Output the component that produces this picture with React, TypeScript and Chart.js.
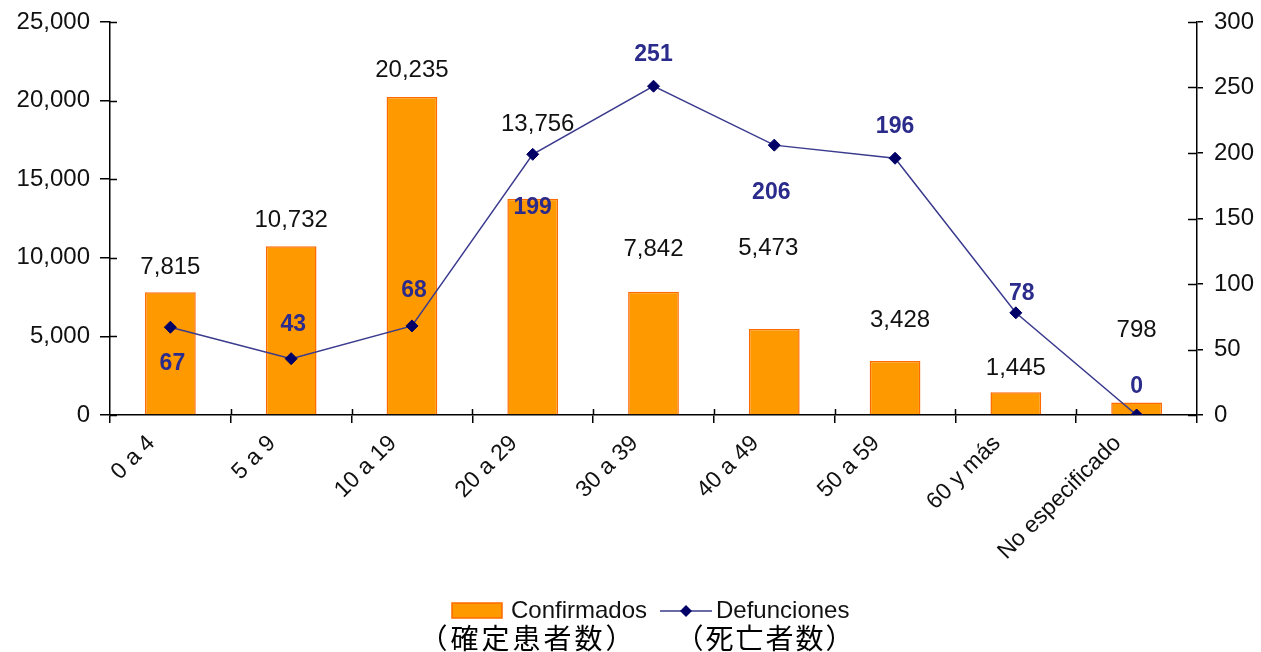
import React, { useEffect, useRef } from "react";
import { Chart, registerables } from "chart.js";

Chart.register(...registerables);

const categories = [
  "0 a 4",
  "5 a 9",
  "10 a 19",
  "20 a 29",
  "30 a 39",
  "40 a 49",
  "50 a 59",
  "60 y más",
  "No especificado",
];
const confirmados = [7815, 10732, 20235, 13756, 7842, 5473, 3428, 1445, 798];
const defunciones = [67, 43, 68, 199, 251, 206, 196, 78, 0];
const leftTicks = [0, 5000, 10000, 15000, 20000, 25000];
const rightTicks = [0, 50, 100, 150, 200, 250, 300];
const seriesNames = ["Confirmados", "Defunciones"];
const seriesNamesJa = ["（確定患者数）", "（死亡者数）"];

// label placement (px, relative to bar top / point)
const barLabelDy = [-25, -26, -27, -74, -42, -81, -41, -24, -72];
const barLabelDx = [0, 0, 0, 5, 0, -6, 5, 0, 0];
const lineLabelDy = [36, -34, -35, 53, -32, 48, -32, -19, -28];
const lineLabelDx = [2, 2, 2, 0, 0, -3, 0, 6, 0];

const FONT = "'Liberation Sans', Arial, sans-serif";
const ORANGE = "#FF9900";
const ORANGE_BORDER = "#FF6A00";
const NAVY_LINE = "#3A3A8E";
const NAVY_POINT = "#000066";
const NAVY_TEXT = "#2B2B8C";

const fmt = (v: number) => v.toLocaleString("en-US");

const labelsPlugin = {
  id: "valueLabels",
  afterDatasetsDraw(chart: any) {
    const ctx = chart.ctx;
    ctx.save();
    ctx.textAlign = "center";
    ctx.textBaseline = "middle";
    const barMeta = chart.getDatasetMeta(0);
    ctx.font = `24px ${FONT}`;
    ctx.fillStyle = "#111";
    barMeta.data.forEach((el: any, i: number) => {
      ctx.fillText(fmt(confirmados[i]), el.x + barLabelDx[i], el.y + barLabelDy[i]);
    });
    const lineMeta = chart.getDatasetMeta(1);
    ctx.font = `bold 23px ${FONT}`;
    ctx.fillStyle = NAVY_TEXT;
    lineMeta.data.forEach((el: any, i: number) => {
      ctx.fillText(String(defunciones[i]), el.x + lineLabelDx[i], el.y + lineLabelDy[i]);
    });
    ctx.restore();
  },
};

const innerTicksPlugin = {
  id: "innerTicks",
  afterDraw(chart: any) {
    const ctx = chart.ctx;
    const { yL, yR, x } = chart.scales;
    const area = chart.chartArea;
    ctx.save();
    ctx.strokeStyle = "#000";
    ctx.lineWidth = 1.5;
    ctx.beginPath();
    leftTicks.forEach((v) => {
      const y = Math.round(yL.getPixelForValue(v)) + 0.5;
      ctx.moveTo(area.left, y);
      ctx.lineTo(area.left + 7, y);
    });
    rightTicks.forEach((v) => {
      const y = Math.round(yR.getPixelForValue(v)) + 0.5;
      ctx.moveTo(area.right - 9, y);
      ctx.lineTo(area.right, y);
    });
    for (let i = 1; i < categories.length; i++) {
      const px = (x.getPixelForValue(i - 1) + x.getPixelForValue(i)) / 2;
      ctx.moveTo(Math.round(px) + 0.5, area.bottom - 6);
      ctx.lineTo(Math.round(px) + 0.5, area.bottom);
    }
    ctx.stroke();
    ctx.restore();
  },
};

function drawSpaced(ctx: any, text: string, centerX: number, y: number, pitch: number) {
  const chars = Array.from(text);
  const start = centerX - ((chars.length - 1) * pitch) / 2;
  chars.forEach((c, i) => ctx.fillText(c, start + i * pitch, y));
}

const legendPlugin = {
  id: "customLegend",
  afterDraw(chart: any) {
    const ctx = chart.ctx;
    ctx.save();
    ctx.textBaseline = "middle";
    ctx.textAlign = "left";
    // bar swatch
    ctx.fillStyle = ORANGE;
    ctx.fillRect(452, 603, 50, 15);
    ctx.strokeStyle = ORANGE_BORDER;
    ctx.lineWidth = 1.5;
    ctx.strokeRect(452, 603, 50, 15);
    ctx.font = `24px ${FONT}`;
    ctx.fillStyle = "#111";
    ctx.fillText(seriesNames[0], 511, 611);
    // line swatch
    ctx.strokeStyle = NAVY_LINE;
    ctx.lineWidth = 1.5;
    ctx.beginPath();
    ctx.moveTo(660, 611);
    ctx.lineTo(712, 611);
    ctx.stroke();
    ctx.fillStyle = NAVY_POINT;
    ctx.beginPath();
    ctx.moveTo(686, 605);
    ctx.lineTo(692, 611);
    ctx.lineTo(686, 617);
    ctx.lineTo(680, 611);
    ctx.closePath();
    ctx.fill();
    ctx.fillStyle = "#111";
    ctx.fillText(seriesNames[1], 716, 611);
    // Japanese captions
    ctx.fillStyle = "#000";
    ctx.textAlign = "center";
    ctx.font = `28px 'Noto Sans CJK JP', sans-serif`;
    drawSpaced(ctx, seriesNamesJa[0], 526.5, 638, 31);
    drawSpaced(ctx, seriesNamesJa[1], 764.5, 638, 30);
    ctx.restore();
  },
};

export default function App() {
  const ref = useRef<HTMLCanvasElement>(null);
  useEffect(() => {
    if (!ref.current) return;
    const chart = new Chart(ref.current, {
      type: "bar",
      data: {
        labels: categories,
        datasets: [
          {
            type: "bar",
            label: seriesNames[0],
            data: confirmados,
            yAxisID: "yL",
            backgroundColor: ORANGE,
            borderColor: ORANGE_BORDER,
            borderWidth: 1.5,
            barPercentage: 0.42,
            categoryPercentage: 1,
            order: 2,
          },
          {
            type: "line",
            label: seriesNames[1],
            data: defunciones,
            yAxisID: "yR",
            borderColor: NAVY_LINE,
            borderWidth: 1.5,
            pointStyle: "rectRot",
            pointRadius: 6,
            pointBackgroundColor: NAVY_POINT,
            pointBorderColor: NAVY_POINT,
            pointBorderWidth: 1,
            tension: 0,
            order: 1,
          } as any,
        ],
      },
      options: {
        responsive: false,
        animation: false,
        events: [],
        layout: { padding: { top: 22, left: 0, right: 0, bottom: 0 } },
        plugins: {
          legend: { display: false },
          tooltip: { enabled: false },
          title: { display: false },
        },
        scales: {
          x: {
            type: "category",
            offset: true,
            grid: {
              offset: true,
              drawOnChartArea: false,
              drawTicks: true,
              tickLength: 8,
              color: "#000",
              lineWidth: 1.5,
            },
            border: { color: "#000", width: 1.5 },
            ticks: {
              autoSkip: false,
              minRotation: 45,
              maxRotation: 45,
              labelOffset: -19,
              padding: 7,
              color: "#111",
              font: { family: FONT, size: 23 },
            },
            afterFit: (s: any) => {
              s.height = 237;
              s.paddingLeft = 0;
              s.paddingRight = 0;
            },
          },
          yL: {
            type: "linear",
            position: "left",
            min: 0,
            max: 25000,
            afterBuildTicks: (s: any) => {
              s.ticks = leftTicks.map((v) => ({ value: v }));
            },
            grid: {
              drawOnChartArea: false,
              tickLength: 10,
              color: "#000",
              lineWidth: 1.5,
            },
            border: { color: "#000", width: 1.5 },
            ticks: {
              padding: 10,
              color: "#111",
              font: { family: FONT, size: 24 },
              callback: (v: any) => fmt(Number(v)),
            },
            afterFit: (s: any) => {
              s.width = 110;
              s.paddingTop = 0;
              s.paddingBottom = 0;
            },
          },
          yR: {
            type: "linear",
            position: "right",
            min: 0,
            max: 300,
            afterBuildTicks: (s: any) => {
              s.ticks = rightTicks.map((v) => ({ value: v }));
            },
            grid: {
              drawOnChartArea: false,
              tickLength: 6,
              color: "#000",
              lineWidth: 1.5,
            },
            border: { color: "#000", width: 1.5 },
            ticks: {
              padding: 11,
              color: "#111",
              font: { family: FONT, size: 24 },
              callback: (v: any) => String(v),
            },
            afterFit: (s: any) => {
              s.width = 64;
              s.paddingTop = 0;
              s.paddingBottom = 0;
            },
          },
        },
      } as any,
      plugins: [labelsPlugin, innerTicksPlugin, legendPlugin],
    });
    return () => chart.destroy();
  }, []);
  return (
    <div style={{ position: "absolute", left: 0, top: 0, width: 1261, height: 652, background: "#fff" }}>
      <canvas ref={ref} width={1261} height={652} style={{ display: "block" }} />
    </div>
  );
}
